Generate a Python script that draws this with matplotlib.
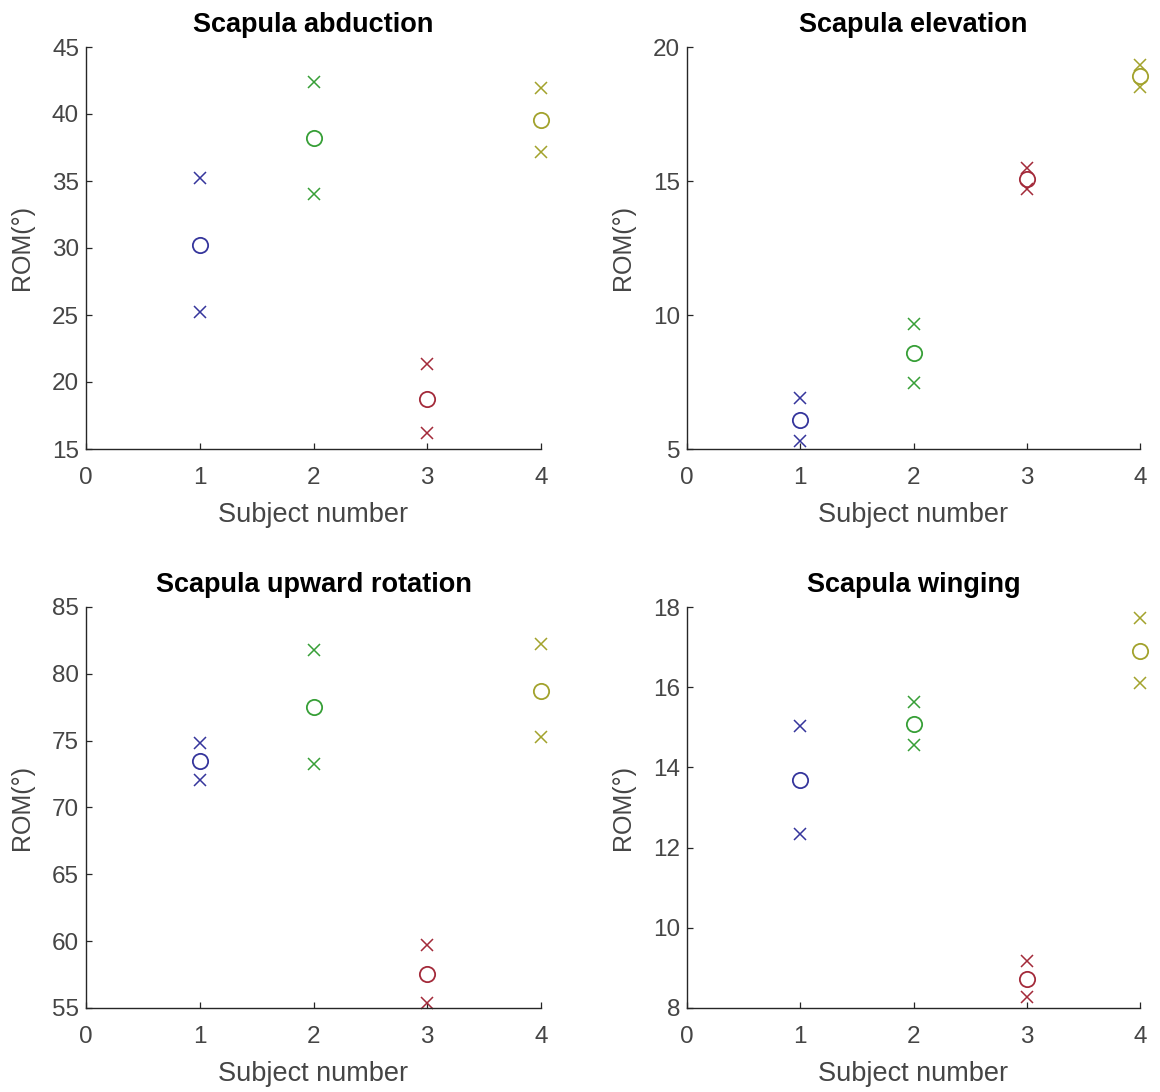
import matplotlib
matplotlib.use("Agg")
import matplotlib.pyplot as plt

plt.rcParams['font.family'] = ['Liberation Sans', 'DejaVu Sans']

# Subjects and per-subject colours
subjects = [1, 2, 3, 4]
subject_colors = ['#35359c', '#379f37', '#a32a3a', '#a2a22c']

# Range of motion per movement: mean and standard deviation for each subject
abduction_mean = [30.23, 38.19, 18.75, 39.55]
abduction_sd = [5.01, 4.17, 2.58, 2.37]

elevation_mean = [6.10, 8.58, 15.09, 18.92]
elevation_sd = [0.80, 1.10, 0.40, 0.41]

rotation_mean = [73.45, 77.55, 57.55, 78.74]
rotation_sd = [1.41, 4.27, 2.17, 3.47]

winging_mean = [13.68, 15.09, 8.72, 16.91]
winging_sd = [1.35, 0.54, 0.45, 0.81]

titles = ['Scapula abduction', 'Scapula elevation',
          'Scapula upward rotation', 'Scapula winging']
y_limits = [(15, 45), (5, 20), (55, 85), (8, 18)]
y_ticks = [[15, 20, 25, 30, 35, 40, 45], [5, 10, 15, 20],
           [55, 60, 65, 70, 75, 80, 85], [8, 10, 12, 14, 16, 18]]
x_ticks = [0, 1, 2, 3, 4]

panels = [(abduction_mean, abduction_sd), (elevation_mean, elevation_sd),
          (rotation_mean, rotation_sd), (winging_mean, winging_sd)]

W, H = 1160, 1092
fig = plt.figure(figsize=(W / 100, H / 100), dpi=100)

# axes boxes in pixels: left, right, top, bottom
boxes = [(86, 541, 47, 449), (687, 1140, 47, 449),
         (86, 541, 607, 1008), (687, 1140, 607, 1008)]

ink = '#262626'
text_grey = '#454545'
for (means, sds), title, ylim, yt, (l, r, t, b) in zip(panels, titles, y_limits, y_ticks, boxes):
    ax = fig.add_axes([l / W, 1 - b / H, (r - l) / W, (b - t) / H])
    for s, m, sd, c in zip(subjects, means, sds, subject_colors):
        ax.plot([s], [m], marker='o', markersize=11, markerfacecolor='none',
                markeredgecolor=c, markeredgewidth=1.3, linestyle='none', clip_on=False)
        ax.plot([s, s], [m + sd, m - sd], marker='x', markersize=8,
                color=c, markeredgewidth=1.1, linestyle='none', clip_on=False)
    ax.set_xlim(0, 4)
    ax.set_ylim(*ylim)
    ax.set_xticks(x_ticks)
    ax.set_yticks(yt)
    for side in ('top', 'right'):
        ax.spines[side].set_visible(False)
    for side in ('left', 'bottom'):
        ax.spines[side].set_color(ink)
        ax.spines[side].set_linewidth(1.0)
    ax.tick_params(direction='in', length=4, width=0.9, colors=ink,
                   labelsize=17.5, labelcolor=text_grey)
    ax.tick_params(axis='x', pad=13)
    ax.tick_params(axis='y', pad=5)
    ax.set_xlabel('Subject number', fontsize=19.5, color=text_grey, labelpad=9)
    ax.set_ylabel('ROM(°)', fontsize=18, color=text_grey, labelpad=13)
    ax.set_title(title, fontsize=19.5, fontweight='bold', color='black', pad=10.5)

fig.savefig('out.png', dpi=100, facecolor='white')
